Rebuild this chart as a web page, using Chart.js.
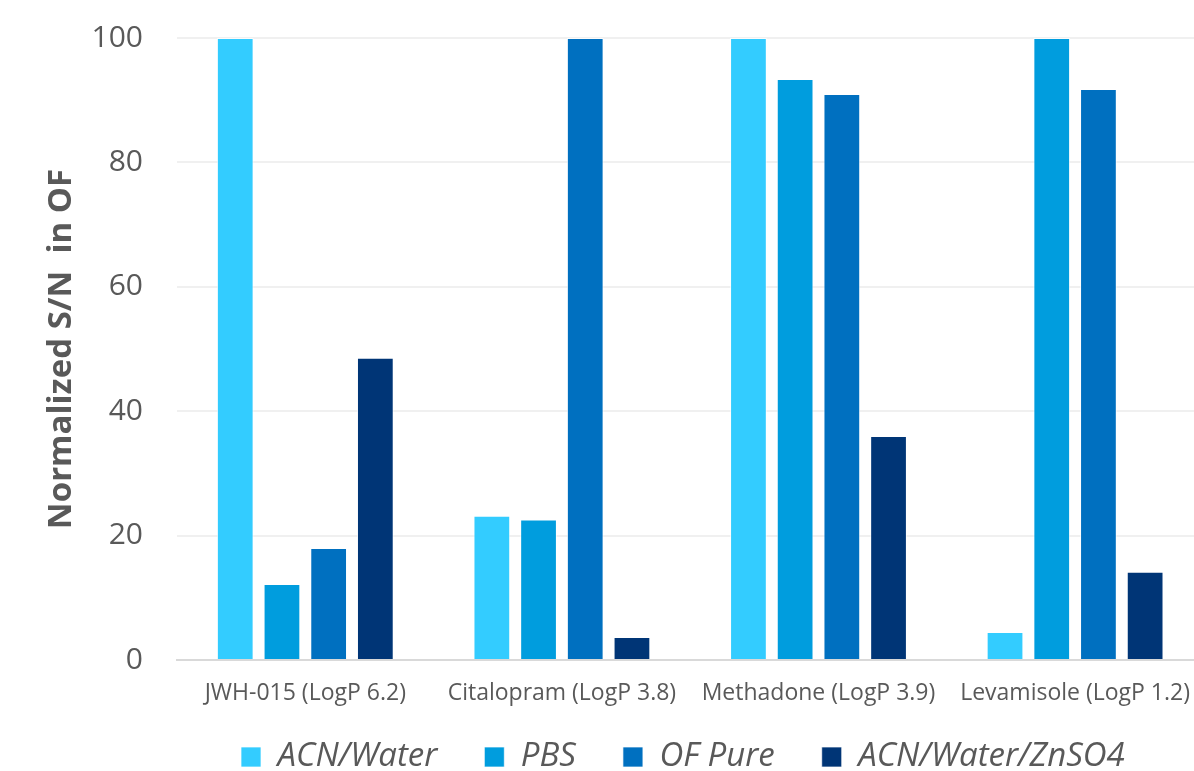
<!DOCTYPE html>
<html>
<head>
<meta charset="utf-8">
<script src="https://cdn.jsdelivr.net/npm/chart.js@4/dist/chart.umd.min.js"></script>
<style>
    html, body { margin: 0; padding: 0; background: #fff; overflow: hidden; }
    #wrap { position: relative; width: 1210px; height: 771px; }
</style>
</head>
<body>
<div id="wrap"><canvas id="chart"></canvas></div>
<script>
// compounds on the x axis
const compounds = [
    "JWH-015 (LogP 6.2)",
    "Citalopram (LogP 3.8)",
    "Methadone (LogP 3.9)",
    "Levamisole (LogP 1.2)"
];

// normalized S/N per extraction solvent
const acnWater = [100, 23.2, 100, 4.5];
const pbs = [12.2, 22.6, 93.4, 100];
const ofPure = [18.0, 100, 91.0, 91.8];
const acnWaterZn = [48.6, 3.7, 36.0, 14.2];

const seriesNames = ["ACN/Water", "PBS", "OF Pure", "ACN/Water/ZnSO4"];
const seriesColors = ["#33CCFF", "#009DDE", "#0070C0", "#003576"];

const yTicks = [0, 20, 40, 60, 80, 100];

const textGrey = "#595959";
const fontName = "'Open Sans', 'Noto Sans', sans-serif";

// the legend row sits a little higher and further right than Chart.js puts it
const legendShift = { x: 17, y: -18.5 };

function makeDataset(i, values) {
    return {
        label: seriesNames[i],
        data: values,
        backgroundColor: seriesColors[i],
        borderColor: "rgba(255,255,255,0.7)",
        borderWidth: 1,
        categoryPercentage: 0.728,
        barPercentage: 0.787
    };
}

const nudgeLegend = {
    id: "nudgeLegend",
    afterLayout(chart) {
        const lg = chart.legend;
        if (!lg) return;
        lg.left += legendShift.x;
        lg.right += legendShift.x;
        lg.top += legendShift.y;
        // let the box run to the canvas bottom so the labels are not clipped
        lg.bottom = chart.height;
        lg.height = lg.bottom - lg.top;
    }
};

const ctx = document.getElementById("chart");
new Chart(ctx, {
    type: "bar",
    data: {
        labels: compounds,
        datasets: [
            makeDataset(0, acnWater),
            makeDataset(1, pbs),
            makeDataset(2, ofPure),
            makeDataset(3, acnWaterZn)
        ]
    },
    plugins: [nudgeLegend],
    options: {
        responsive: true,
        maintainAspectRatio: false,
        animation: false,
        layout: {
            padding: { top: 38, left: 38, right: 0, bottom: 0 }
        },
        plugins: {
            tooltip: { enabled: false },
            legend: {
                position: "bottom",
                align: "start",
                fullSize: false,
                maxHeight: 59,
                labels: {
                    boxWidth: 20,
                    boxHeight: 20,
                    padding: 47,
                    color: textGrey,
                    font: { family: fontName, size: 33, style: "italic" }
                }
            }
        },
        scales: {
            x: {
                afterFit: (scale) => { scale.height = 52; },
                grid: { display: false, drawTicks: false },
                border: { display: true, color: "#D9D9D9", width: 2 },
                ticks: {
                    color: textGrey,
                    padding: 20,
                    maxRotation: 0,
                    font: { family: fontName, size: 23 }
                }
            },
            y: {
                min: 0,
                max: 100,
                afterBuildTicks: (scale) => {
                    scale.ticks = yTicks.map(v => ({ value: v }));
                },
                afterFit: (scale) => {
                    scale.width = 139;
                    scale.paddingTop = 0;
                    scale.paddingBottom = 0;
                },
                grid: {
                    color: "#F0F0F0",
                    lineWidth: 2,
                    drawTicks: false
                },
                border: { display: false },
                ticks: {
                    color: textGrey,
                    padding: 34,
                    font: { family: fontName, size: 30 }
                },
                title: {
                    display: true,
                    text: "Normalized S/N  in OF",
                    color: textGrey,
                    padding: { top: 4, bottom: 4 },
                    font: { family: fontName, size: 33, weight: "bold" }
                }
            }
        }
    }
});
</script>
</body>
</html>
